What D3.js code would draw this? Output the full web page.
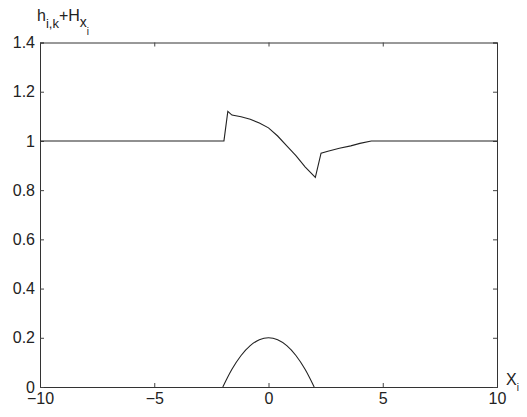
<!DOCTYPE html>
<html>
<head>
<meta charset="utf-8">
<script src="https://cdn.jsdelivr.net/npm/d3@7"></script>
<style>
  body { margin: 0; background: #fff; }
  text { font-family: "Liberation Sans", Arial, sans-serif; fill: #222; }
</style>
</head>
<body>
<svg id="chart" width="527" height="417"></svg>
<script>
// surface h+H
var surfX = [-10, -1.95, -1.78, -1.6, -1.2, -0.8, -0.4, 0, 0.4, 0.8, 1.2, 1.6, 2.05, 2.3, 2.6, 3.1, 3.6, 4.0, 4.5, 5, 10];
var surfY = [1, 1, 1.12, 1.105, 1.098, 1.088, 1.073, 1.053, 1.02, 0.98, 0.94, 0.895, 0.852, 0.95, 0.958, 0.97, 0.98, 0.99, 1.0, 1.0, 1.0];

// bottom bump H
var bumpX = [-2, -1.6, -1.2, -0.8, -0.4, 0, 0.4, 0.8, 1.2, 1.6, 2];
var bumpY = [0, 0.072, 0.128, 0.168, 0.192, 0.2, 0.192, 0.168, 0.128, 0.072, 0];

var xTicks = [-10, -5, 0, 5, 10];
var yTicks = [0, 0.2, 0.4, 0.6, 0.8, 1, 1.2, 1.4];

var padL = 40, padR = 497, padT = 42.5, padB = 387;

var svg = d3.select("#chart");
var x = d3.scaleLinear().domain([-10, 10]).range([padL, padR]);
var y = d3.scaleLinear().domain([0, 1.4]).range([padB, padT]);

function fmt(d) { return d < 0 ? "\u2212" + Math.abs(d) : String(d); }

// axes, ticks pointing inward
svg.append("g").attr("transform", "translate(0," + padB + ")")
  .call(d3.axisBottom(x).tickValues(xTicks).tickSize(-4).tickPadding(6).tickFormat(fmt));
svg.append("g").attr("transform", "translate(0," + padT + ")")
  .call(d3.axisTop(x).tickValues(xTicks).tickSize(-4).tickFormat(""));
svg.append("g").attr("transform", "translate(" + padL + ",0)")
  .call(d3.axisLeft(y).tickValues(yTicks).tickSize(-4).tickPadding(5).tickFormat(d3.format("")));
svg.append("g").attr("transform", "translate(" + padR + ",0)")
  .call(d3.axisRight(y).tickValues(yTicks).tickSize(-4).tickFormat(""));

svg.selectAll(".domain").attr("stroke", "#333").attr("stroke-width", 1);
svg.selectAll(".tick line").attr("stroke", "#444");
svg.selectAll(".tick text").attr("font-size", 16).attr("fill", "#222")
  .attr("font-family", "Liberation Sans, Arial, sans-serif");

var line = d3.line().x(function(d) { return x(d[0]); }).y(function(d) { return y(d[1]); });
var lineCurve = d3.line().curve(d3.curveMonotoneX)
  .x(function(d) { return x(d[0]); }).y(function(d) { return y(d[1]); });

var surf = surfX.map(function(v, i) { return [v, surfY[i]]; });
var bump = bumpX.map(function(v, i) { return [v, bumpY[i]]; });

svg.append("path").datum(surf).attr("d", line)
  .attr("fill", "none").attr("stroke", "#222").attr("stroke-width", 1.1);
svg.append("path").datum(bump).attr("d", lineCurve)
  .attr("fill", "none").attr("stroke", "#222").attr("stroke-width", 1.1);

// y label
var yl = svg.append("text").attr("x", 37).attr("y", 21).attr("font-size", 16);
yl.append("tspan").text("h");
yl.append("tspan").attr("font-size", 13).attr("dy", 7).text("i,k");
yl.append("tspan").attr("dy", -7).text("+H");
yl.append("tspan").attr("font-size", 14).attr("dy", 6).text("x");
yl.append("tspan").attr("font-size", 10).attr("dy", 8).text("i");

// x label
var xl = svg.append("text").attr("x", 506).attr("y", 385).attr("font-size", 16);
xl.append("tspan").text("X");
xl.append("tspan").attr("font-size", 10).attr("dy", 6).text("i");
</script>
</body>
</html>
